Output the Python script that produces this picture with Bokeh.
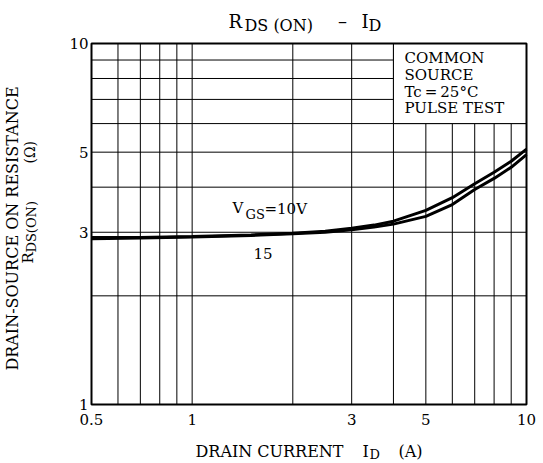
import math
from bokeh.plotting import figure
from bokeh.models import FixedTicker, Label, LogAxis
from bokeh.embed import file_html
from bokeh.resources import INLINE

# ---- data ----
drain_current = [0.5, 0.7, 1.0, 1.5, 2.0, 2.5, 3.0, 3.5, 4.0, 5.0, 6.0, 7.0, 8.0, 9.0, 10.0]
rds_vgs10 = [2.90, 2.90, 2.92, 2.95, 2.98, 3.02, 3.08, 3.14, 3.22, 3.45, 3.74, 4.09, 4.40, 4.72, 5.10]
rds_vgs15 = [2.88, 2.89, 2.91, 2.94, 2.97, 3.00, 3.05, 3.10, 3.16, 3.32, 3.58, 3.94, 4.23, 4.54, 4.92]

x_ticks = [0.5, 1, 3, 5, 10]
x_tick_labels = ["0.5", "1", "3", "5", "10"]
y_ticks = [1, 3, 5, 10]
y_tick_labels = ["1", "3", "5", "10"]
x_grid = [0.6, 0.7, 0.8, 0.9, 1, 2, 3, 4, 5, 6, 7, 8, 9]
y_grid = [2, 3, 4, 5, 6, 7, 8, 9]

# conditions box (white area in the upper right of the chart)
note_box = dict(left=4, right=10, bottom=6, top=10)

FONT = "DejaVu Serif"

# layout (canvas pixels): where the data box sits on the canvas
W, H = 543, 463
PX_L, PX_R, PY_T, PY_B = 91, 526, 43, 404
X_MIN, X_MAX = x_ticks[0], x_ticks[-1]
Y_MIN, Y_MAX = y_ticks[0], y_ticks[-1]
KX = (math.log10(X_MAX) - math.log10(X_MIN)) / (PX_R - PX_L)
KY = (math.log10(Y_MAX) - math.log10(Y_MIN)) / (PY_B - PY_T)


def dx(px):
    return 10 ** (math.log10(X_MIN) + (px - PX_L) * KX)


def dy(py):
    return 10 ** (math.log10(Y_MIN) + (PY_B - py) * KY)


p = figure(width=W, height=H, x_axis_type="log", y_axis_type="log",
           x_axis_location=None, y_axis_location=None,
           x_range=(dx(0), dx(W)), y_range=(dy(H), dy(0)),
           output_backend="svg", toolbar_location=None,
           min_border=0, min_border_left=0, min_border_right=0,
           min_border_top=0, min_border_bottom=0)
p.background_fill_color = "white"
p.border_fill_color = "white"
p.outline_line_color = None
p.grid.visible = False

# grid lines
p.segment(x0=x_grid, x1=x_grid, y0=[Y_MIN] * len(x_grid), y1=[Y_MAX] * len(x_grid),
          line_color="black", line_width=1)
p.segment(x0=[X_MIN] * len(y_grid), x1=[X_MAX] * len(y_grid), y0=y_grid, y1=y_grid,
          line_color="black", line_width=1)

# white conditions box
p.quad(left=[note_box["left"]], right=[note_box["right"]],
       bottom=[note_box["bottom"]], top=[note_box["top"]],
       fill_color="white", line_color="black", line_width=1)

# chart border
p.quad(left=[X_MIN], right=[X_MAX], bottom=[Y_MIN], top=[Y_MAX],
       fill_color=None, line_color="black", line_width=2)

# curves
p.line(drain_current, rds_vgs10, line_color="black", line_width=3)
p.line(drain_current, rds_vgs15, line_color="black", line_width=3)

# axes (drawn at the data box edges)
xaxis = LogAxis(fixed_location=Y_MIN, bounds=(X_MIN, X_MAX))
yaxis = LogAxis(fixed_location=X_MIN, bounds=(Y_MIN, Y_MAX))
for ax, ticks, labels in ((xaxis, x_ticks, x_tick_labels), (yaxis, y_ticks, y_tick_labels)):
    ax.ticker = FixedTicker(ticks=ticks)
    ax.major_label_overrides = dict(zip(ticks, labels))
    ax.axis_line_color = None
    ax.major_tick_line_color = None
    ax.minor_tick_line_color = None
    ax.major_tick_out = 0
    ax.major_tick_in = 0
    ax.major_label_text_font = FONT
    ax.major_label_text_font_size = "15px"
    ax.major_label_text_color = "black"
xaxis.major_label_standoff = 9
yaxis.major_label_standoff = 3
p.add_layout(xaxis, "below")
p.add_layout(yaxis, "left")

SHIFT = 0.35  # baseline correction, in em


def lab(text, px, py, size, align="left"):
    """horizontal text; (px, py) = left end of the alphabetic baseline"""
    p.add_layout(Label(x=dx(px), y=dy(py - SHIFT * size), text=text, text_font=FONT,
                       text_font_size=f"{size}px", text_color="black",
                       text_align=align, text_baseline="alphabetic"))


def vlab(text, px, py, size, align="left"):
    """text rotated 90 deg; (px, py) = start of the baseline"""
    p.add_layout(Label(x=dx(px - SHIFT * size), y=dy(py), text=text, text_font=FONT,
                       text_font_size=f"{size}px", text_color="black",
                       text_align=align, text_baseline="alphabetic", angle=math.pi / 2))


# title
lab("R", 228, 27, 18)
lab("DS (ON)", 244, 31, 16)
lab("\u2013", 342, 27, 18, align="center")
lab("I", 361, 27, 18)
lab("D", 368, 31, 16)

# conditions text
lab("COMMON", 404, 63, 15)
lab("SOURCE", 404, 80, 15)
lab("Tc\u2009=\u200925\u00b0C", 404, 97, 15)
lab("PULSE TEST", 404, 113, 15)

# curve labels
lab("V", 232, 213, 15)
lab("GS", 245, 219, 13)
lab("=10V", 264, 214, 15)
lab("15", 253, 258, 15)

# x axis label
lab("DRAIN CURRENT", 195, 457, 16)
lab("I", 362, 457, 16)
lab("D", 369, 459, 13)
lab("(A)", 398, 457, 16)

# y axis label (rotated)
vlab("DRAIN-SOURCE ON RESISTANCE", 18, 228, 16, align="center")
vlab("R", 33, 263, 15)
vlab("DS(ON)", 36, 252, 13)
vlab("(\u03a9)", 34, 163, 14)

open("out.html", "w").write(file_html(p, INLINE))
